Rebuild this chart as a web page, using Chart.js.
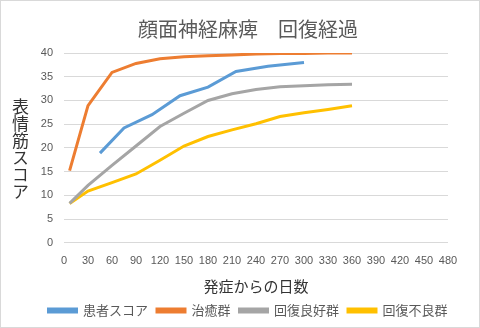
<!DOCTYPE html>
<html>
<head>
<meta charset="utf-8">
<script src="https://cdn.jsdelivr.net/npm/chart.js@4"></script>
<style>
  body { margin: 0; background: #fff; }
  #wrap { position: relative; width: 480px; height: 328px; border: 1px solid #d9d9d9; box-sizing: border-box; }
  #yTitle {
    position: absolute; left: 11px; top: 97px;
    writing-mode: vertical-rl; font-family: "Noto Sans CJK JP"; font-size: 17px;
    line-height: 1; color: #333;
  }
</style>
</head>
<body>
<div id="wrap">
  <canvas id="chart"></canvas>
  <div id="yTitle">表情筋スコア</div>
</div>
<script>
// days since onset
const groupDays = [7, 30, 60, 90, 120, 150, 180, 210, 240, 270, 300, 330, 360];
const patientDays = [45, 75, 110, 145, 180, 215, 255, 300];

// scores
const patientScore = [18.9, 24.2, 27.0, 31.0, 32.8, 36.1, 37.2, 38.0];
const curedScore = [15.2, 28.9, 35.9, 37.8, 38.8, 39.2, 39.4, 39.6, 39.8, 39.9, 39.9, 40, 40];
const goodScore = [8.3, 12.1, 16.3, 20.4, 24.5, 27.3, 30.0, 31.4, 32.3, 32.9, 33.1, 33.3, 33.4];
const poorScore = [8.3, 10.9, 12.7, 14.5, 17.4, 20.4, 22.4, 23.8, 25.1, 26.6, 27.4, 28.1, 28.9];

const seriesNames = ['患者スコア', '治癒群', '回復良好群', '回復不良群'];
const seriesColors = ['#5B9BD5', '#ED7D31', '#A5A5A5', '#FFC000'];

const toPoints = (xs, ys) => xs.map((x, i) => ({ x: x, y: ys[i] }));

const allSeries = [
    toPoints(patientDays, patientScore),
    toPoints(groupDays, curedScore),
    toPoints(groupDays, goodScore),
    toPoints(groupDays, poorScore)
];

const jp = '"Noto Sans CJK JP", sans-serif';

new Chart(document.getElementById('chart'), {
    type: 'line',
    data: {
        datasets: allSeries.map((pts, i) => ({
            label: seriesNames[i],
            data: pts,
            borderColor: seriesColors[i],
            backgroundColor: seriesColors[i],
            borderWidth: 3,
            pointRadius: 0,
            tension: 0
        }))
    },
    options: {
        responsive: true,
        maintainAspectRatio: false,
        animation: false,
        layout: { padding: { left: 16, right: 0, top: 0, bottom: 0 } },
        scales: {
            x: {
                type: 'linear',
                min: 0, max: 480,
                ticks: { stepSize: 30, color: '#595959', font: { family: 'Liberation Sans', size: 11 }, padding: 4, maxRotation: 0 },
                grid: { display: false },
                border: { display: false },
                title: { display: true, text: '発症からの日数', color: '#333', font: { family: jp, size: 15 }, padding: { top: 5, bottom: 0 } }
            },
            y: {
                min: 0, max: 40,
                ticks: { stepSize: 5, color: '#595959', font: { family: 'Liberation Sans', size: 11 }, padding: 11 },
                grid: { color: '#d9d9d9', drawTicks: false },
                border: { display: false },
                afterFit: (scale) => { scale.width = 47; }
            },
            // empty right-hand axis, only reserves the blank space right of the plot
            yRight: {
                position: 'right',
                min: 0, max: 40,
                ticks: { display: false },
                grid: { display: false },
                border: { display: false },
                afterFit: (scale) => { scale.width = 31; }
            }
        },
        plugins: {
            title: {
                display: true,
                text: '顔面神経麻痺　回復経過',
                color: '#595959',
                font: { family: jp, size: 20, weight: 'normal' },
                padding: { top: 16, bottom: 12 }
            },
            legend: {
                position: 'bottom',
                labels: {
                    boxWidth: 28,
                    boxHeight: 3,
                    color: '#595959',
                    font: { family: jp, size: 13 },
                    padding: 9
                }
            },
            tooltip: { enabled: false }
        }
    }
});
</script>
</body>
</html>
